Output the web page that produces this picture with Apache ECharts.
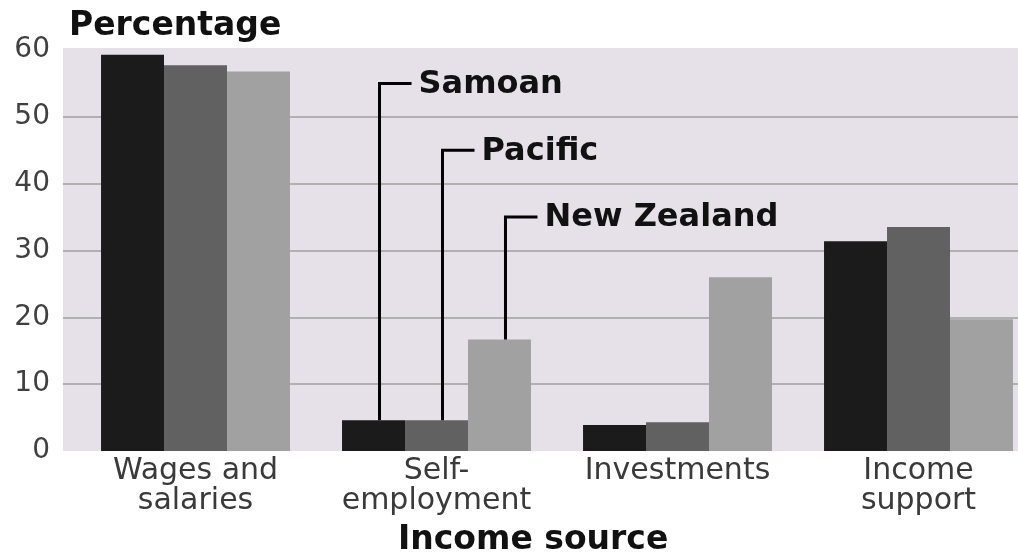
<!DOCTYPE html>
<html>
<head>
    <meta charset="utf-8">
    <title>Income source</title>
    <script src="https://cdn.jsdelivr.net/npm/echarts@6/dist/echarts.min.js"></script>
    <style>
        html, body { margin: 0; padding: 0; background: #fff; }
        #chart { width: 1018px; height: 552px; }
    </style>
</head>
<body>
    <div id="chart"></div>
    <script>
        // data
        var categories = ['Wages and\nsalaries', 'Self-\nemployment', 'Investments', 'Income\nsupport'];
        var samoan = [59.3, 4.6, 3.9, 31.4];
        var pacific = [57.7, 4.6, 4.3, 33.5];
        var newZealand = [56.8, 16.7, 26.0, 19.7];
        var seriesNames = ['Samoan', 'Pacific', 'New Zealand'];
        var yMin = 0, yMax = 60, yStep = 10;

        // callout labels: which series, which category, label height (value)
        var calloutSeries = [0, 1, 2];
        var calloutCategory = [1, 1, 1];
        var calloutLevel = [55, 45, 35];

        var font = 'DejaVu Sans';
        var colors = ['#1b1b1b', '#616161', '#a1a1a1'];
        var gap = 0.216;

        var chart = echarts.init(document.getElementById('chart'));
        var option = {
            animation: false,
            // grid 0 holds the bars (its right side runs past the picture),
            // grid 1 is the shaded panel with the value axis and grid lines
            grid: [
                { left: 75, top: 50, width: 964, bottom: 101, outerBoundsMode: 'none', containLabel: false },
                { left: 63, top: 50, right: 0, bottom: 101, outerBoundsMode: 'none', containLabel: false }
            ],
            title: [
                {
                    text: 'Percentage', left: 64, top: 5,
                    textStyle: { fontFamily: font, fontSize: 33, fontWeight: 'bold', color: '#111' }
                },
                {
                    text: 'Income source', left: 393, top: 519,
                    textStyle: { fontFamily: font, fontSize: 33, fontWeight: 'bold', color: '#111' }
                }
            ],
            graphic: [
                {
                    id: 'bg', type: 'rect', z: -10, silent: true,
                    shape: { x: 63, y: 48, width: 955, height: 403 },
                    style: { fill: '#e6e0e8' }
                }
            ],
            xAxis: [
                {
                    type: 'category',
                    gridIndex: 0,
                    data: categories,
                    axisLine: { show: false },
                    axisTick: { show: false },
                    axisLabel: {
                        interval: 0, margin: 5, fontFamily: font, fontSize: 30, lineHeight: 30, color: '#3a3a3a'
                    }
                },
                { type: 'value', gridIndex: 1, min: 0, max: 1, show: false }
            ],
            yAxis: [
                {
                    type: 'value', gridIndex: 0,
                    min: yMin, max: yMax, interval: yStep,
                    show: false
                },
                {
                    type: 'value', gridIndex: 1,
                    min: yMin, max: yMax, interval: yStep,
                    axisLine: { show: false },
                    axisTick: { show: false },
                    axisLabel: { margin: 13, fontFamily: font, fontSize: 28, color: '#404040' },
                    splitLine: {
                        lineStyle: {
                            width: 2,
                            color: ['transparent', '#b0b0b0', '#b0b0b0', '#b0b0b0', '#b0b0b0', '#b0b0b0', 'transparent']
                        }
                    }
                }
            ],
            series: [
                { name: seriesNames[0], type: 'bar', data: samoan, barGap: 0, barCategoryGap: (gap * 100) + '%', itemStyle: { color: colors[0] } },
                { name: seriesNames[1], type: 'bar', data: pacific, barGap: 0, barCategoryGap: (gap * 100) + '%', itemStyle: { color: colors[1] } },
                { name: seriesNames[2], type: 'bar', data: newZealand, barGap: 0, barCategoryGap: (gap * 100) + '%', itemStyle: { color: colors[2] } }
            ]
        };
        chart.setOption(option);

        // callout lines from bar tops to the labels
        var allData = [samoan, pacific, newZealand];
        var band = chart.convertToPixel({ xAxisIndex: 0 }, 1) - chart.convertToPixel({ xAxisIndex: 0 }, 0);
        var barW = band * (1 - gap) / 3;
        var callouts = [];
        for (var i = 0; i < calloutSeries.length; i++) {
            var s = calloutSeries[i];
            var c = calloutCategory[i];
            var x = chart.convertToPixel({ xAxisIndex: 0 }, c) + (s - 1) * barW + 6;
            var yBottom = chart.convertToPixel({ yAxisIndex: 0 }, allData[s][c]);
            var yTop = chart.convertToPixel({ yAxisIndex: 0 }, calloutLevel[i]);
            callouts.push({
                id: 'line' + i, type: 'polyline', z: 10, silent: true,
                shape: { points: [[x, yBottom], [x, yTop], [x + 32, yTop]] },
                style: { stroke: '#000', lineWidth: 3, fill: null }
            });
            callouts.push({
                id: 'label' + i, type: 'text', z: 10, silent: true,
                x: x + 39, y: yTop + 1,
                style: {
                    text: seriesNames[s], fontFamily: font, fontSize: 32, fontWeight: 'bold',
                    fill: '#111', verticalAlign: 'middle', align: 'left'
                }
            });
        }
        chart.setOption({ graphic: callouts });
    </script>
</body>
</html>
